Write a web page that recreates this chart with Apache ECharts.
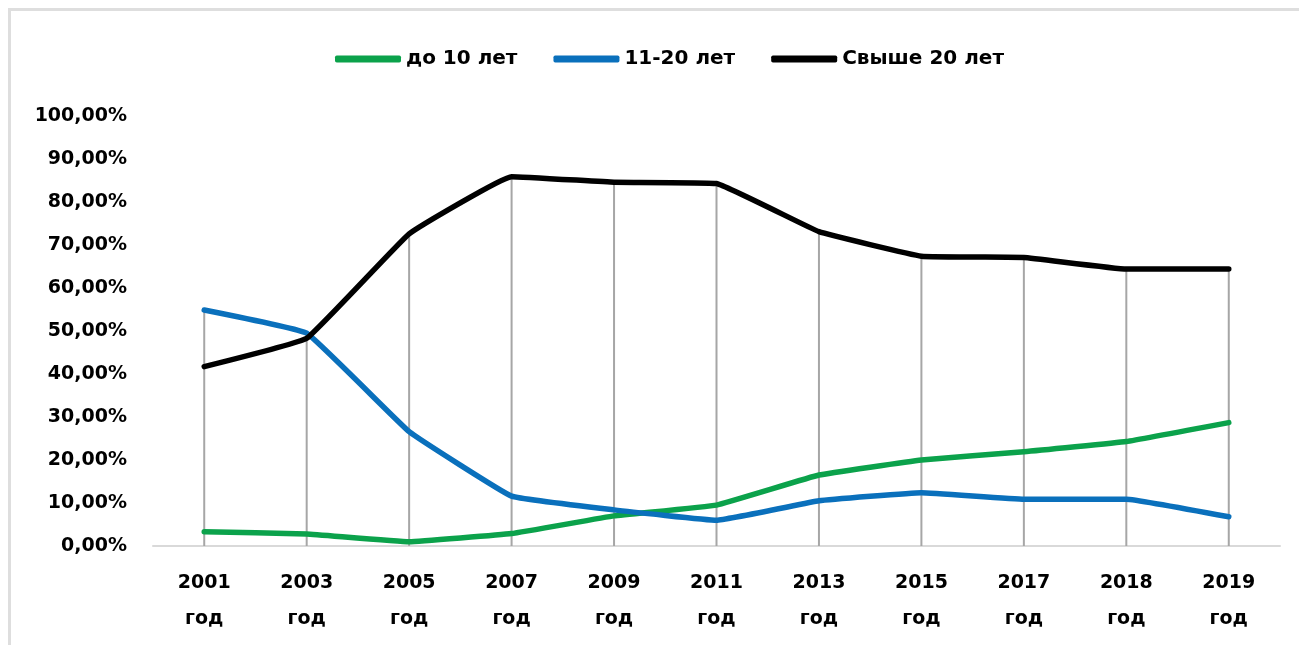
<!DOCTYPE html>
<html>
<head>
<meta charset="utf-8">
<script src="https://cdn.jsdelivr.net/npm/echarts@6/dist/echarts.min.js"></script>
<style>
  html, body { margin: 0; padding: 0; background: #fff; }
  #chart { width: 1299px; height: 645px; }
</style>
</head>
<body>
<div id="chart"></div>
<script>
// Age structure shares by year, percent
const categories = ['2001\nгод', '2003\nгод', '2005\nгод', '2007\nгод', '2009\nгод', '2011\nгод',
                    '2013\nгод', '2015\nгод', '2017\nгод', '2018\nгод', '2019\nгод'];
const upTo10 = [3.3, 2.8, 1.0, 2.9, 7.0, 9.5, 16.5, 20.0, 21.9, 24.3, 28.7];
const from11to20 = [54.9, 49.5, 26.6, 11.6, 8.4, 6.0, 10.5, 12.4, 10.9, 10.9, 6.8];
const over20 = [41.7, 48.3, 72.6, 85.9, 84.6, 84.3, 73.1, 67.4, 67.1, 64.4, 64.4];
const seriesNames = ['до 10 лет', '11-20 лет', 'Свыше 20 лет'];
const seriesColors = ['#0BA24B', '#0A70BC', '#000000'];

// drop lines run from the highest point of each year down to the axis
const dropTops = categories.map((_, i) => Math.max(upTo10[i], from11to20[i], over20[i]));

const font = 'DejaVu Sans';
const chart = echarts.init(document.getElementById('chart'));

const lineSeries = [upTo10, from11to20, over20].map((data, k) => ({
  name: seriesNames[k],
  type: 'line',
  data: data,
  smooth: 0.08,
  symbol: 'none',
  z: 3 + k,
  lineStyle: { width: 5.5, color: seriesColors[k], cap: 'round', join: 'round' },
  itemStyle: { color: seriesColors[k] }
}));

chart.setOption({
  animation: false,
  backgroundColor: '#ffffff',
  graphic: [
    { type: 'rect', shape: { x: 8, y: 8, width: 1291, height: 3 }, style: { fill: '#dedede' }, silent: true },
    { type: 'rect', shape: { x: 8, y: 8, width: 3, height: 637 }, style: { fill: '#dedede' }, silent: true }
  ],
  legend: {
    data: seriesNames,
    top: 44,
    left: 330,
    itemWidth: 66,
    itemHeight: 7,
    itemGap: 36,
    icon: 'roundRect',
    textStyle: { fontFamily: font, fontWeight: 'bold', fontSize: 20, color: '#000' }
  },
  grid: { left: 153, right: 19, top: 116, bottom: 99, containLabel: false },
  xAxis: {
    type: 'category',
    data: categories,
    boundaryGap: true,
    axisLine: { show: true, lineStyle: { color: '#d9d9d9', width: 2 } },
    axisTick: { show: false },
    splitLine: { show: false },
    axisLabel: {
      margin: 19,
      interval: 0,
      fontFamily: font,
      fontWeight: 'bold',
      fontSize: 19,
      lineHeight: 36,
      color: '#000'
    }
  },
  yAxis: {
    type: 'value',
    min: 0,
    max: 100,
    interval: 10,
    axisLine: { show: false },
    axisTick: { show: false },
    splitLine: { show: false },
    axisLabel: {
      margin: 26,
      fontFamily: font,
      fontWeight: 'bold',
      fontSize: 19,
      color: '#000',
      formatter: v => v.toFixed(2).replace('.', ',') + '%'
    }
  },
  series: [
    {
      name: 'drop',
      type: 'bar',
      data: dropTops,
      barWidth: 2,
      z: 1,
      itemStyle: { color: '#a6a6a6' },
      silent: true,
      legendHoverLink: false
    }
  ].concat(lineSeries)
});
</script>
</body>
</html>
